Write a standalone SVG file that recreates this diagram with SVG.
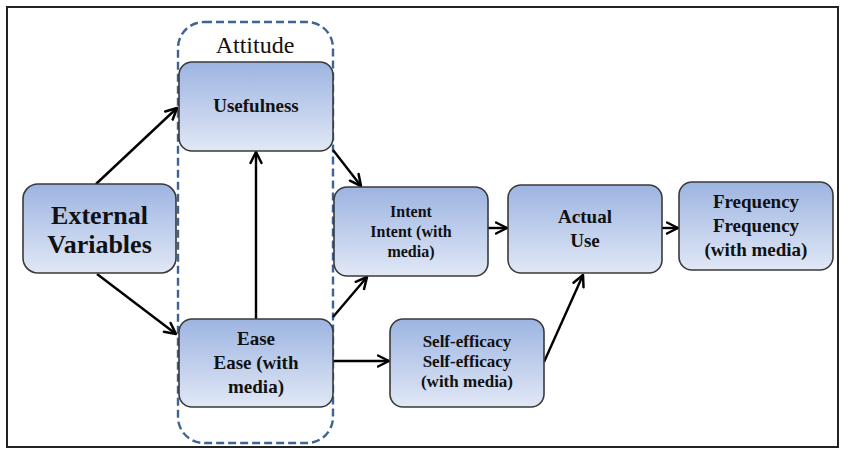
<svg xmlns="http://www.w3.org/2000/svg" width="841" height="449" viewBox="0 0 841 449">
  <defs>
    <linearGradient id="boxFill" x1="0" y1="0" x2="0" y2="1">
      <stop offset="0" stop-color="#9db4e1"/>
      <stop offset="1" stop-color="#e1e8f6"/>
    </linearGradient>
    <marker id="arrow" viewBox="0 0 14 14" refX="12.5" refY="7" markerWidth="14" markerHeight="14" markerUnits="userSpaceOnUse" orient="auto">
      <path d="M1.5,1.5 L12.5,7 L1.5,12.5" fill="none" stroke="#000" stroke-width="2.5" stroke-linecap="round" stroke-linejoin="round"/>
    </marker>
  </defs>
  <style>
    .box { fill: url(#boxFill); stroke: #3a3a3a; stroke-width: 1.6; }
    .lbl { font-family: "Liberation Serif", Tinos, "Noto Serif", "DejaVu Serif", Times, serif; font-weight: bold; fill: #111; text-anchor: middle; }
    .ttl { font-family: "Liberation Serif", Tinos, "Noto Serif", "DejaVu Serif", Times, serif; fill: #111; text-anchor: middle; }
    .conn { stroke: #000; stroke-width: 2.4; fill: none; marker-end: url(#arrow); }
    .frame { fill: #fff; stroke: #222; stroke-width: 2; }
    .container { fill: none; stroke: #3c6591; stroke-width: 2.4; stroke-dasharray: 8 4; }
  </style>
  <rect x="0" y="0" width="841" height="449" fill="#fff"/>
  <rect class="frame" x="7" y="7" width="831" height="440"/>

  <g id="attitude">
    <rect class="container" x="178" y="22" width="155" height="421" rx="26" ry="26"/>
    <text class="ttl" x="255" y="53" font-size="24">Attitude</text>
  </g>

  <g id="connectors">
    <line class="conn" x1="96" y1="184" x2="177" y2="108"/>
    <line class="conn" x1="97" y1="274" x2="176" y2="334"/>
    <line class="conn" x1="256" y1="319" x2="256" y2="152"/>
    <line class="conn" x1="333" y1="150" x2="361" y2="186"/>
    <line class="conn" x1="333" y1="317" x2="367" y2="277"/>
    <line class="conn" x1="333" y1="361" x2="389" y2="361"/>
    <line class="conn" x1="488" y1="228" x2="507" y2="228"/>
    <line class="conn" x1="662" y1="228" x2="678" y2="228"/>
    <line class="conn" x1="544" y1="362" x2="583" y2="275"/>
  </g>

  <g id="external">
    <rect class="box" x="23" y="184" width="153" height="89" rx="15"/>
    <text class="lbl" x="99.5" y="224" font-size="26">External</text>
    <text class="lbl" x="99.5" y="253" font-size="26">Variables</text>
  </g>

  <g id="usefulness">
    <rect class="box" x="179" y="62" width="154" height="89" rx="13"/>
    <text class="lbl" x="256" y="112" font-size="19">Usefulness</text>
  </g>

  <g id="ease">
    <rect class="box" x="179" y="319" width="154" height="88" rx="13"/>
    <text class="lbl" x="256" y="345" font-size="19">Ease</text>
    <text class="lbl" x="256" y="369" font-size="19">Ease (with</text>
    <text class="lbl" x="256" y="393" font-size="19">media)</text>
  </g>

  <g id="intent">
    <rect class="box" x="334" y="187" width="154" height="89" rx="13"/>
    <text class="lbl" x="411" y="217" font-size="16">Intent</text>
    <text class="lbl" x="411" y="237" font-size="16">Intent (with</text>
    <text class="lbl" x="411" y="257" font-size="16">media)</text>
  </g>

  <g id="actual-use">
    <rect class="box" x="508" y="185" width="154" height="88" rx="13"/>
    <text class="lbl" x="585" y="223" font-size="19">Actual</text>
    <text class="lbl" x="585" y="247" font-size="19">Use</text>
  </g>

  <g id="frequency">
    <rect class="box" x="679" y="182" width="154" height="88" rx="13"/>
    <text class="lbl" x="756" y="208" font-size="19">Frequency</text>
    <text class="lbl" x="756" y="232" font-size="19">Frequency</text>
    <text class="lbl" x="756" y="256" font-size="19">(with media)</text>
  </g>

  <g id="self-efficacy">
    <rect class="box" x="390" y="319" width="154" height="88" rx="13"/>
    <text class="lbl" x="467" y="347" font-size="17">Self-efficacy</text>
    <text class="lbl" x="467" y="367" font-size="17">Self-efficacy</text>
    <text class="lbl" x="467" y="387" font-size="17">(with media)</text>
  </g>
</svg>
